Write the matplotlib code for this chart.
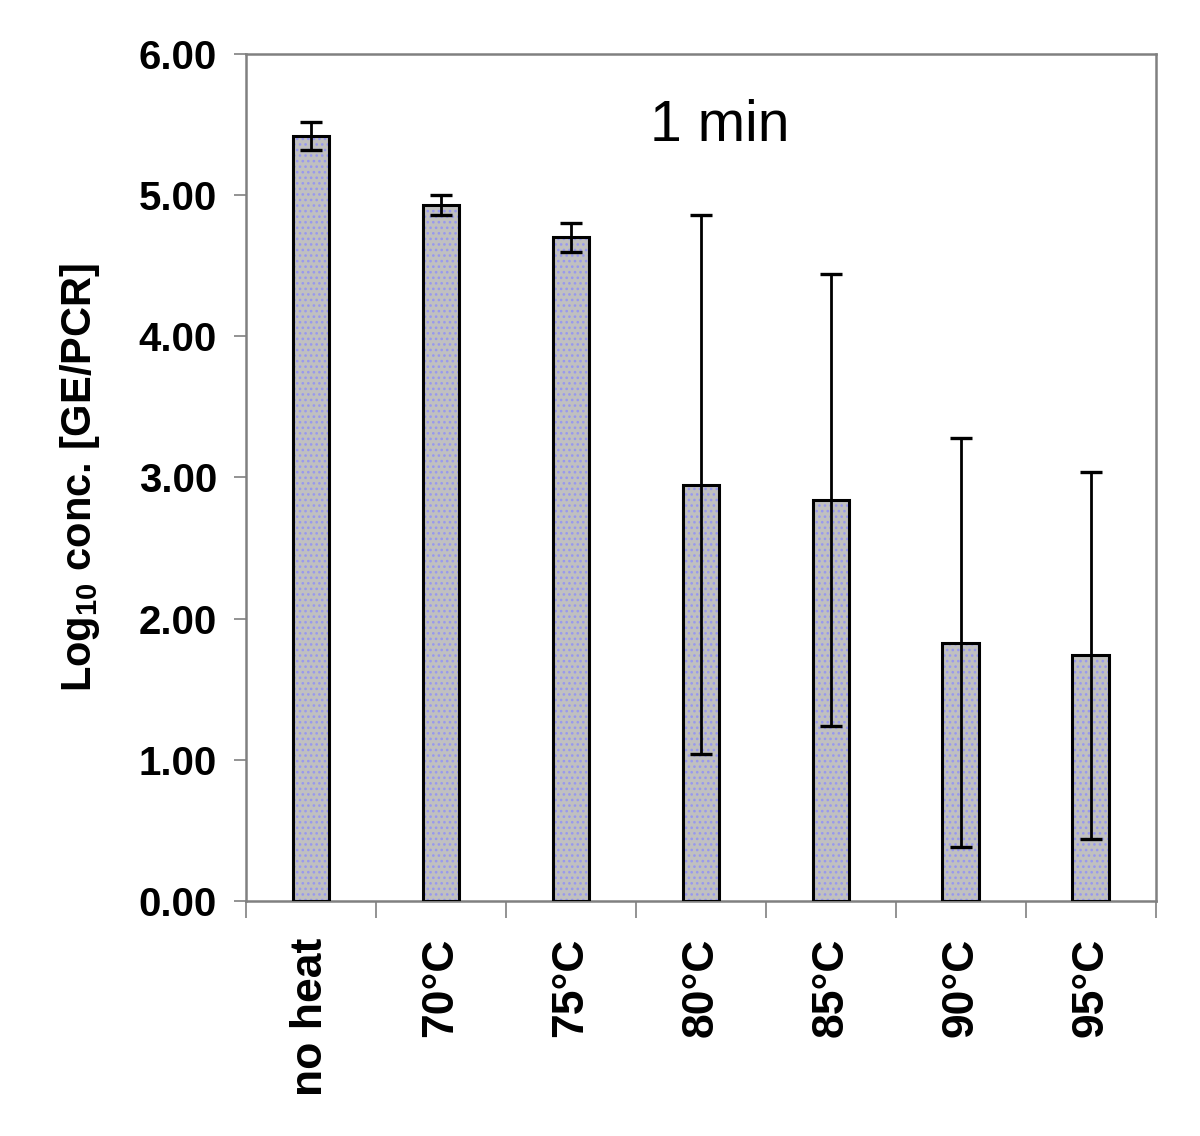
import matplotlib
matplotlib.use("Agg")
import matplotlib.pyplot as plt
import numpy as np

categories = ["no heat", "70°C", "75°C", "80°C", "85°C", "90°C", "95°C"]
means = [5.42, 4.93, 4.70, 2.95, 2.84, 1.83, 1.74]
errors = [0.10, 0.07, 0.10, 1.91, 1.60, 1.45, 1.30]
yticks = [0, 1, 2, 3, 4, 5, 6]

plt.rcParams['font.family'] = ['Liberation Sans', 'DejaVu Sans']
plt.rcParams['hatch.linewidth'] = 1.1

fig = plt.figure(figsize=(12, 11.36), dpi=100)
ax = fig.add_axes([0.205, 0.2069, 0.758, 0.7456])

x = np.arange(len(categories))
w = 0.28
# dotted fill
ax.bar(x, means, width=w, color="#C0C0C0", edgecolor="#9898F0", hatch="...", linewidth=0, zorder=2)
# outline
ax.bar(x, means, width=w, fill=False, edgecolor="black", linewidth=2.2, zorder=3)
ax.errorbar(x, means, yerr=errors, fmt="none", ecolor="black", elinewidth=2.0,
            capsize=8, capthick=2.4, zorder=4)

ax.set_xlim(-0.5, len(categories) - 0.5)
ax.set_ylim(0, 6)
ax.set_yticks(yticks)
ax.set_yticklabels([f"{v:.2f}" for v in yticks], fontsize=29, fontweight="bold")
ax.set_xticks(np.arange(-0.5, len(categories), 1.0))
ax.set_xticklabels([])
ax.set_xticks(x, minor=True)
ax.set_xticklabels(categories, minor=True, rotation=90, fontsize=32, fontweight="bold",
                   va="top", ha="center")
ax.tick_params(axis="x", which="minor", length=0, pad=26.5)
ax.tick_params(axis="x", which="major", length=12, width=1.2, color="#808080", direction="out")
ax.tick_params(axis="y", which="major", length=9, width=1.2, color="#808080", direction="out", pad=12)

for s in ax.spines.values():
    s.set_color("#808080")
    s.set_linewidth(1.8)

ax.set_ylabel(r"Log$_{\mathregular{10}}$ conc. [GE/PCR]", fontsize=30, fontweight="bold", labelpad=26)
ax.text(0.521, 0.915, "1 min", transform=ax.transAxes, fontsize=41, ha="center", va="center")

fig.savefig("out.png", dpi=100)
